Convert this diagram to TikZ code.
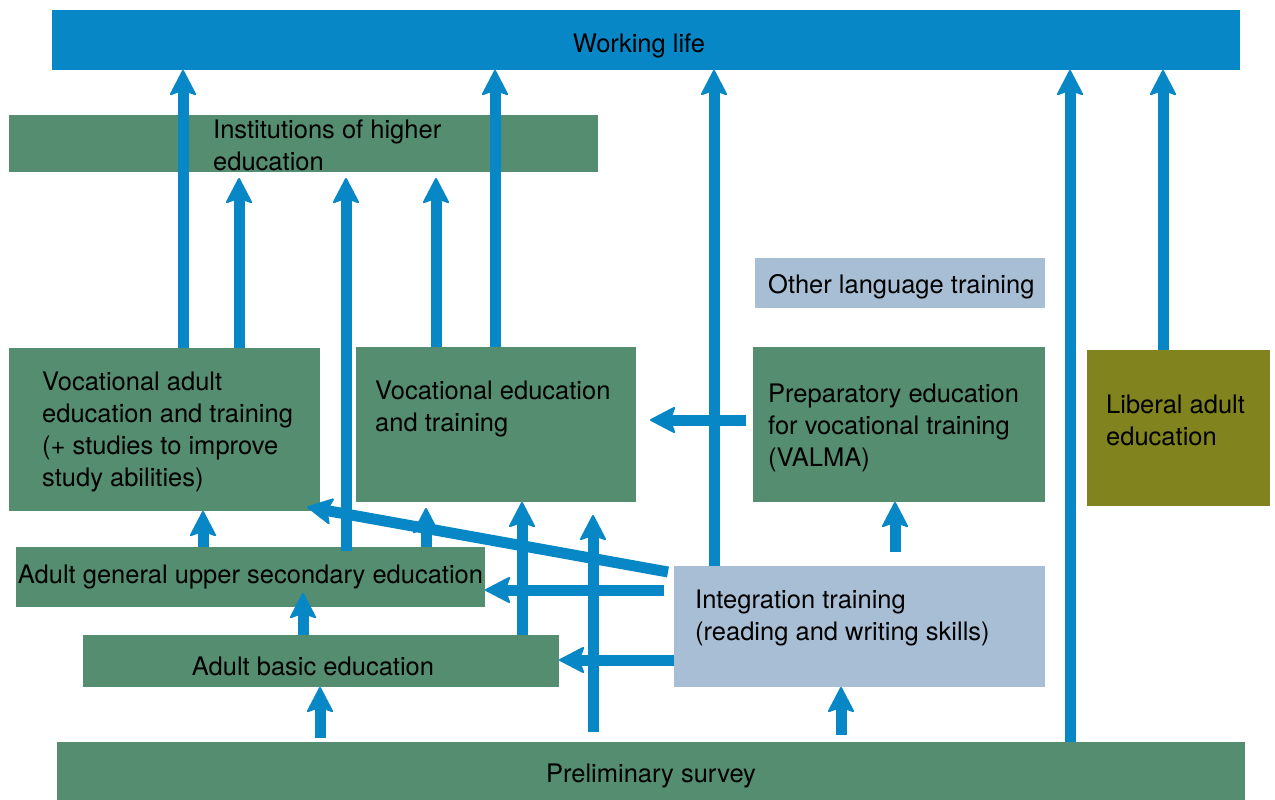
\documentclass[tikz,border=0pt]{standalone}
\usepackage{fontspec}
\setmainfont{TeX Gyre Heros}
\usetikzlibrary{arrows.meta,positioning}
\definecolor{flowblue}{RGB}{7,135,198}
\definecolor{boxgreen}{RGB}{84,141,112}
\definecolor{paleblue}{RGB}{168,190,212}
\definecolor{olive}{RGB}{128,131,30}
\tikzset{
    box/.style={anchor=north west, inner sep=0pt, outer sep=0pt, fill=boxgreen},
    txt/.style={font=\fontsize{25.5}{32}\selectfont, align=left, inner sep=0pt},
    flow/.style={draw=flowblue, line width=11pt,
        -{Stealth[length=27pt,width=28pt,inset=5pt,line width=2pt,round]}}
}
\begin{document}
\begin{tikzpicture}[x=1pt, y=-1pt]
    \useasboundingbox (0,0) rectangle (1275,800);
    % boxes
    \node[box, fill=flowblue, minimum width=1188pt, minimum height=60pt] (wl) at (52,10) {};
    \node[box, minimum width=589pt, minimum height=57pt] (ihe) at (9,115) {};
    \node[box, minimum width=311pt, minimum height=163pt] (vae) at (9,348) {};
    \node[box, minimum width=280pt, minimum height=155pt] (vet) at (356,347) {};
    \node[box, fill=paleblue, minimum width=290pt, minimum height=50pt] (olt) at (755,258) {};
    \node[box, minimum width=292pt, minimum height=155pt] (valma) at (753,347) {};
    \node[box, fill=olive, minimum width=183pt, minimum height=156pt] (lae) at (1087,350) {};
    \node[box, minimum width=469pt, minimum height=60pt] (ague) at (16,547) {};
    \node[box, minimum width=476pt, minimum height=52pt] (abe) at (83,635) {};
    \node[box, fill=paleblue, minimum width=371pt, minimum height=121pt] (itr) at (674,566) {};
    \node[box, minimum width=1188pt, minimum height=58pt] (pre) at (57,742) {};
    % texts
    \node[txt] (wl-t) at ([shift={(-7pt,-6pt)}]wl.center) {Working life};
    \node[txt, anchor=west] (ihe-t) at ([shift={(204pt,-2pt)}]ihe.west) {Institutions of higher\\education};
    \node[txt, anchor=west] (vae-t) at ([shift={(33pt,-2pt)}]vae.west) {Vocational adult\\education and training\\(+ studies to improve\\study abilities)};
    \node[txt, anchor=west] (vet-t) at ([shift={(19pt,16pt)}]vet.west) {Vocational education\\and training};
    \node[txt, anchor=west] (olt-t) at ([shift={(13pt,-4pt)}]olt.west) {Other language training};
    \node[txt, anchor=west] (valma-t) at ([shift={(15pt,-3pt)}]valma.west) {Preparatory education\\for vocational training\\(VALMA)};
    \node[txt, anchor=west] (lae-t) at ([shift={(19pt,8pt)}]lae.west) {Liberal adult\\education};
    \node[txt] (ague-t) at (ague.center) {Adult general upper secondary education};
    \node[txt] (abe-t) at ([shift={(-8pt,-5pt)}]abe.center) {Adult basic education};
    \node[txt, anchor=west] (itr-t) at ([shift={(21pt,8.5pt)}]itr.west) {Integration training\\(reading and writing skills)};
    \node[txt] (pre-t) at ([yshift=-5pt]pre.center) {Preliminary survey};
    % arrows
    \draw[flow] (vae.north -| 183,0) -- (wl.south -| 183,0);
    \draw[flow] (vae.north -| 239,0) -- ([yshift=-6pt]ihe.south -| 239,0);
    \draw[flow] ([yshift=-4pt]ague.north -| 346,0) -- ([yshift=-6pt]ihe.south -| 346,0);
    \draw[flow] (vet.north -| 436,0) -- ([yshift=-6pt]ihe.south -| 436,0);
    \draw[flow] (vet.north -| 495,0) -- (wl.south -| 495,0);
    \draw[flow] (itr.north -| 714,0) -- (wl.south -| 714,0);
    \draw[flow] (pre.north -| 1070,0) -- (wl.south -| 1070,0);
    \draw[flow] (lae.north -| 1163,0) -- (wl.south -| 1163,0);
    \draw[flow] ([xshift=-7pt]valma.west |- 0,420) -- ([xshift=14pt]vet.east |- 0,420);
    \draw[flow] ([yshift=14pt]itr.north -| 895,0) -- (valma.south -| 895,0);
    \draw[flow] ([shift={(-6pt,-6pt)}]itr.north west) -- ([shift={(-13pt,4pt)}]vae.south east);
    \draw[flow] (ague.north -| 203,0) -- (vae.south -| 203,0);
    \draw[flow] (ague.north -| 426,0) -- ([yshift=-6pt]vet.south -| 426,0);
    \draw[flow] ([xshift=-10pt]itr.west |- 0,590) -- (ague.east |- 0,590);
    \draw[flow] (abe.north -| 522,0) -- (vet.south -| 522,0);
    \draw[flow] ([yshift=10pt]pre.north -| 593,0) -- ([yshift=-13pt]vet.south -| 593,0);
    \draw[flow] (itr.west |- 0,660) -- (abe.east |- 0,660);
    \draw[flow] (abe.north -| 303,0) -- ([yshift=14pt]ague.south -| 303,0);
    \draw[flow] ([yshift=4pt]pre.north -| 320,0) -- (abe.south -| 320,0);
    \draw[flow] ([yshift=7pt]pre.north -| 841,0) -- (itr.south -| 841,0);
\end{tikzpicture}
\end{document}
